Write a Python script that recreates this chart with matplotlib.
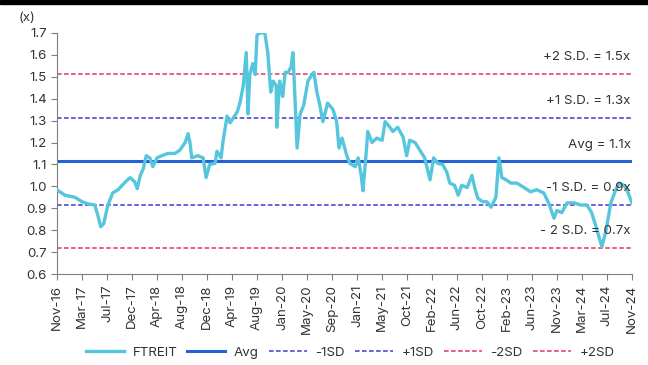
import matplotlib
matplotlib.use("Agg")
import matplotlib.pyplot as plt
import numpy as np

# FTREIT multiple, x = months since Nov-16
months = [0.2, 1.3, 3.0, 4.2, 5.2, 6.3, 6.8, 7.3, 7.8, 8.5,
          9.3, 10.2, 11.4, 12.2, 13.0, 13.4, 13.9, 14.4, 14.9, 15.5,
          16.0, 16.7, 17.5, 18.5, 19.7, 20.5, 21.4, 21.9, 22.2, 22.5,
          23.5, 24.4, 24.9, 25.5, 26.4, 26.7, 27.4, 27.7, 28.4, 28.9,
          29.4, 30.1, 30.6, 31.1, 31.6, 31.9, 32.2, 32.7, 33.1, 33.4,
          33.9, 34.7, 35.2, 35.7, 36.1, 36.6, 36.7, 37.2, 37.7, 38.1,
          38.6, 39.1, 39.4, 39.7, 40.1, 40.6, 41.2, 41.9, 42.6, 42.9,
          43.4, 43.9, 44.4, 45.2, 46.1, 46.7, 47.1, 47.6, 48.4, 48.9,
          49.8, 50.3, 50.8, 51.1, 51.6, 51.9, 52.6, 53.4, 54.3, 54.8,
          55.3, 56.1, 56.9, 57.8, 58.4, 58.9, 59.8, 60.6, 61.4, 62.3,
          62.9, 63.6, 64.4, 65.1, 65.6, 66.4, 67.0, 67.6, 68.5, 69.3,
          69.8, 70.3, 71.1, 71.8, 72.5, 73.3, 73.8, 74.3, 75.0, 75.8,
          76.8, 78.0, 79.1, 80.1, 81.3, 82.1, 83.0, 83.5, 84.3, 85.2,
          86.3, 87.5, 88.5, 89.3, 90.2, 91.0, 91.7, 92.5, 93.4, 93.9,
          94.7, 95.2, 96.0]
ftreit = [0.98, 0.96, 0.95, 0.93, 0.92, 0.915, 0.87, 0.816, 0.83, 0.915,
          0.97, 0.985, 1.02, 1.04, 1.02, 0.99, 1.05, 1.08, 1.14, 1.13,
          1.09, 1.13, 1.14, 1.15, 1.15, 1.165, 1.20, 1.24, 1.20, 1.13,
          1.14, 1.13, 1.04, 1.10, 1.105, 1.16, 1.13, 1.20, 1.32, 1.29,
          1.31, 1.34, 1.385, 1.46, 1.61, 1.33, 1.51, 1.56, 1.51, 1.69,
          1.70, 1.70, 1.61, 1.43, 1.48, 1.46, 1.27, 1.48, 1.41, 1.52,
          1.52, 1.545, 1.61, 1.43, 1.175, 1.33, 1.37, 1.48, 1.51, 1.52,
          1.43, 1.37, 1.295, 1.38, 1.35, 1.295, 1.175, 1.22, 1.14, 1.105,
          1.09, 1.13, 1.05, 0.98, 1.14, 1.25, 1.20, 1.22, 1.21, 1.295,
          1.28, 1.25, 1.27, 1.225, 1.14, 1.21, 1.20, 1.165, 1.13, 1.03,
          1.13, 1.105, 1.10, 1.065, 1.015, 1.005, 0.96, 1.005, 0.995, 1.05,
          0.99, 0.945, 0.93, 0.93, 0.905, 0.95, 1.13, 1.04, 1.03, 1.015,
          1.015, 0.995, 0.975, 0.985, 0.97, 0.925, 0.855, 0.89, 0.88, 0.925,
          0.925, 0.915, 0.915, 0.88, 0.80, 0.725, 0.80, 0.925, 0.99, 1.015,
          1.005, 0.985, 0.925]

avg = 1.115
sd = 0.198

tick_labels = ["Nov-16", "Mar-17", "Jul-17", "Dec-17", "Apr-18", "Aug-18", "Dec-18",
               "Apr-19", "Aug-19", "Jan-20", "May-20", "Sep-20", "Jan-21", "May-21",
               "Oct-21", "Feb-22", "Jun-22", "Oct-22", "Feb-23", "Jun-23", "Nov-23",
               "Mar-24", "Jul-24", "Nov-24"]

band_labels = ["+2 S.D. = 1.5x", "+1 S.D. = 1.3x", "Avg = 1.1x", "-1 S.D. = 0.9x", "- 2 S.D. = 0.7x"]

plt.rcParams['font.family'] = ['Inter', 'DejaVu Sans']
fs = 9.6

fig = plt.figure(figsize=(6.48, 3.65), dpi=100)
ax = fig.add_axes([0.088, 0.249, 0.887, 0.661])

grey = "#7f7f7f"
txt = "#333333"
c_ft = "#55C6DB"
c_avg = "#2463D1"
c_sd1 = "#3a3acc"
c_sd2 = "#e8335e"
dash = (0, (3, 1.6))

ax.plot(months, ftreit, color=c_ft, lw=2.4, label="FTREIT", zorder=3)
ax.plot([0, 96], [avg, avg], color=c_avg, lw=2.2, label="Avg", zorder=2)
ax.plot([0, 96], [avg - sd] * 2, color=c_sd1, lw=1.1, ls=dash, label="-1SD")
ax.plot([0, 96], [avg + sd] * 2, color=c_sd1, lw=1.1, ls=dash, label="+1SD")
ax.plot([0, 96], [avg - 2 * sd] * 2, color=c_sd2, lw=1.1, ls=dash, label="-2SD")
ax.plot([0, 96], [avg + 2 * sd] * 2, color=c_sd2, lw=1.1, ls=dash, label="+2SD")

# band annotations, right aligned above each line
levels = [avg + 2 * sd, avg + sd, avg, avg - sd, avg - 2 * sd]
for lab, lv in zip(band_labels, levels):
    off = 0.045 if lab.startswith("Avg") else 0.05
    ax.text(95.8, lv + off, lab, ha="right", va="bottom", fontsize=fs, color=txt, zorder=4)

ax.set_xlim(0, 96)
ax.set_ylim(0.6, 1.7)
ax.set_yticks(np.arange(0.6, 1.71, 0.1))
ax.set_yticklabels([f"{v:.1f}" for v in np.arange(0.6, 1.71, 0.1)])
ax.set_xticks(np.linspace(0, 96, len(tick_labels)))
ax.set_xticklabels(tick_labels, rotation=90)

for s in ["top", "right"]:
    ax.spines[s].set_visible(False)
for s in ["left", "bottom"]:
    ax.spines[s].set_color(grey)
ax.tick_params(axis="both", colors=grey, labelcolor=txt, labelsize=fs, length=4, direction="out")

fig.text(0.028, 0.935, "(x)", fontsize=fs, color=txt, ha="left", va="bottom")

leg = ax.legend(loc="center", bbox_to_anchor=(0.51, -0.325), ncol=6, frameon=False,
                fontsize=fs, handlelength=2.85, columnspacing=0.75, handletextpad=0.65)
for t in leg.get_texts():
    t.set_color(txt)

# dark strip along the top edge of the source image
fig.patches.append(plt.Rectangle((0, 0.99), 1, 0.01, transform=fig.transFigure,
                                 color="black", zorder=10))

fig.savefig("out.png", dpi=100)
